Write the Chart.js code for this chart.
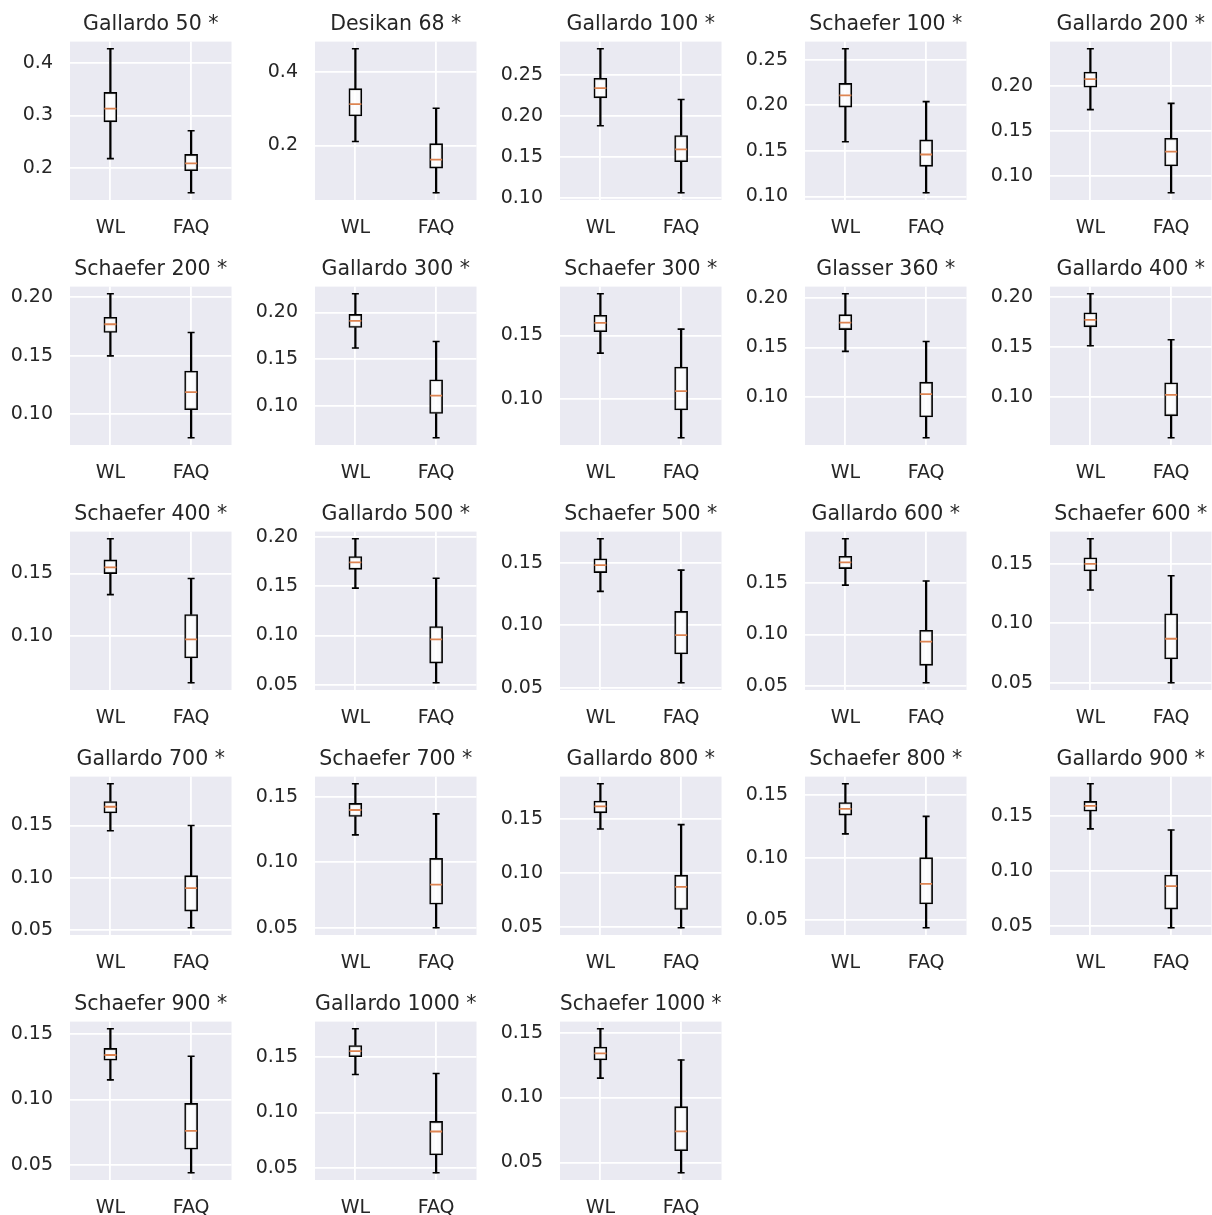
<!DOCTYPE html>
<html lang="en">
<head>
<meta charset="UTF-8">
<title>WL vs FAQ</title>
<script src="https://cdn.jsdelivr.net/npm/chart.js@4.4.0/dist/chart.umd.min.js"></script>
<style>
  body { margin: 0; background: #fff; }
  #grid { position: relative; width: 1212px; height: 1215px; overflow: hidden; }
  #grid canvas { position: absolute; }
</style>
</head>
<body>
<div id="grid"></div>
<script>
const panelTitles = [
  'Gallardo 50 *', 'Desikan 68 *', 'Gallardo 100 *', 'Schaefer 100 *', 'Gallardo 200 *',
  'Schaefer 200 *', 'Gallardo 300 *', 'Schaefer 300 *', 'Glasser 360 *', 'Gallardo 400 *',
  'Schaefer 400 *', 'Gallardo 500 *', 'Schaefer 500 *', 'Gallardo 600 *', 'Schaefer 600 *',
  'Gallardo 700 *', 'Schaefer 700 *', 'Gallardo 800 *', 'Schaefer 800 *', 'Gallardo 900 *',
  'Schaefer 900 *', 'Gallardo 1000 *', 'Schaefer 1000 *'
];
const groups = ['WL', 'FAQ'];

// [min, q1, median, q3, max]
const wlStats = [
  [0.218, 0.288, 0.313, 0.344, 0.427],
  [0.211, 0.280, 0.312, 0.354, 0.462],
  [0.188, 0.222, 0.234, 0.246, 0.282],
  [0.160, 0.198, 0.211, 0.224, 0.262],
  [0.174, 0.199, 0.208, 0.216, 0.242],
  [0.150, 0.170, 0.177, 0.183, 0.203],
  [0.162, 0.184, 0.191, 0.198, 0.220],
  [0.136, 0.153, 0.160, 0.166, 0.183],
  [0.146, 0.168, 0.175, 0.183, 0.204],
  [0.151, 0.170, 0.177, 0.184, 0.203],
  [0.133, 0.150, 0.155, 0.161, 0.178],
  [0.148, 0.167, 0.174, 0.180, 0.198],
  [0.127, 0.142, 0.148, 0.153, 0.169],
  [0.148, 0.164, 0.170, 0.176, 0.193],
  [0.128, 0.144, 0.150, 0.155, 0.171],
  [0.145, 0.162, 0.168, 0.173, 0.190],
  [0.121, 0.135, 0.140, 0.145, 0.160],
  [0.141, 0.156, 0.162, 0.167, 0.183],
  [0.119, 0.134, 0.139, 0.144, 0.159],
  [0.138, 0.154, 0.159, 0.163, 0.179],
  [0.115, 0.130, 0.134, 0.139, 0.154],
  [0.134, 0.150, 0.155, 0.160, 0.175],
  [0.115, 0.129, 0.134, 0.139, 0.153]
];
const faqStats = [
  [0.153, 0.195, 0.209, 0.226, 0.271],
  [0.072, 0.139, 0.162, 0.205, 0.301],
  [0.106, 0.144, 0.159, 0.176, 0.220],
  [0.104, 0.133, 0.146, 0.162, 0.204],
  [0.081, 0.111, 0.127, 0.142, 0.181],
  [0.080, 0.104, 0.119, 0.137, 0.170],
  [0.066, 0.092, 0.111, 0.128, 0.169],
  [0.069, 0.091, 0.106, 0.125, 0.155],
  [0.059, 0.080, 0.103, 0.115, 0.156],
  [0.059, 0.081, 0.102, 0.114, 0.157],
  [0.062, 0.082, 0.097, 0.117, 0.146],
  [0.052, 0.072, 0.096, 0.109, 0.158],
  [0.054, 0.077, 0.092, 0.111, 0.144],
  [0.053, 0.070, 0.093, 0.104, 0.152],
  [0.050, 0.070, 0.087, 0.108, 0.140],
  [0.052, 0.068, 0.090, 0.102, 0.150],
  [0.050, 0.068, 0.083, 0.103, 0.137],
  [0.049, 0.066, 0.087, 0.098, 0.145],
  [0.044, 0.063, 0.079, 0.100, 0.133],
  [0.048, 0.065, 0.086, 0.096, 0.137],
  [0.044, 0.062, 0.076, 0.097, 0.133],
  [0.046, 0.062, 0.083, 0.092, 0.135],
  [0.042, 0.059, 0.074, 0.093, 0.129]
];
const yTickLabels = [
  ['0.2', '0.3', '0.4'],
  ['0.2', '0.4'],
  ['0.10', '0.15', '0.20', '0.25'],
  ['0.10', '0.15', '0.20', '0.25'],
  ['0.10', '0.15', '0.20'],
  ['0.10', '0.15', '0.20'],
  ['0.10', '0.15', '0.20'],
  ['0.10', '0.15'],
  ['0.10', '0.15', '0.20'],
  ['0.10', '0.15', '0.20'],
  ['0.10', '0.15'],
  ['0.05', '0.10', '0.15', '0.20'],
  ['0.05', '0.10', '0.15'],
  ['0.05', '0.10', '0.15'],
  ['0.05', '0.10', '0.15'],
  ['0.05', '0.10', '0.15'],
  ['0.05', '0.10', '0.15'],
  ['0.05', '0.10', '0.15'],
  ['0.05', '0.10', '0.15'],
  ['0.05', '0.10', '0.15'],
  ['0.05', '0.10', '0.15'],
  ['0.05', '0.10', '0.15'],
  ['0.05', '0.10', '0.15']
];

Chart.defaults.font.family = '"DejaVu Sans", sans-serif';
Chart.defaults.color = '#262626';

// seaborn darkgrid background behind the axes
const axesBg = {
  id: 'axesBg',
  beforeDraw(chart) {
    const a = chart.chartArea, ctx = chart.ctx;
    ctx.save();
    ctx.fillStyle = '#eaeaf2';
    ctx.fillRect(a.left, a.top, a.right - a.left, a.bottom - a.top);
    ctx.restore();
  }
};

function makePanel(i) {
  const canvas = document.createElement('canvas');
  canvas.width = 232;
  canvas.height = 235;
  canvas.style.left = (i % 5) * 245 + 'px';
  canvas.style.top = Math.floor(i / 5) * 245 + 'px';
  document.getElementById('grid').appendChild(canvas);

  const stats = [wlStats[i], faqStats[i]];
  const lo = Math.min(...stats.map(s => s[0]));
  const hi = Math.max(...stats.map(s => s[4]));
  const margin = (hi - lo) * 0.05;
  const ticks = yTickLabels[i];

  const whiskers = [], boxes = [], caps = [], medians = [];
  stats.forEach((s, k) => {
    const x = k + 1;
    whiskers.push({x: x, y: [s[0], s[1]]}, {x: x, y: [s[3], s[4]]});
    boxes.push({x: x, y: [s[1], s[3]]});
    caps.push({x: x, y: s[0]}, {x: x, y: s[4]});
    medians.push({x: x, y: s[2]});
  });

  new Chart(canvas, {
    type: 'bar',
    data: {
      datasets: [
        {
          type: 'scatter', data: medians, order: 0,
          pointStyle: 'line', radius: 6, borderColor: '#dd8452', borderWidth: 1.8
        },
        {
          type: 'scatter', data: caps, order: 1,
          pointStyle: 'line', radius: 3.5, borderColor: '#000', borderWidth: 1.6
        },
        {
          data: boxes, order: 2, grouped: false, barThickness: 13,
          backgroundColor: 'rgba(255,255,255,0.8)', borderColor: '#000',
          borderWidth: 1.6, borderSkipped: false
        },
        {
          data: whiskers, order: 3, grouped: false, barThickness: 1.6,
          backgroundColor: '#000', borderWidth: 0
        }
      ]
    },
    options: {
      responsive: false,
      animation: false,
      layout: { autoPadding: false, padding: { left: 0, right: 0.5, top: 0, bottom: 0 } },
      plugins: {
        legend: { display: false },
        tooltip: { enabled: false },
        title: {
          display: true,
          text: panelTitles[i],
          fullSize: false,
          color: '#262626',
          font: { size: 20.5, weight: 'normal' },
          padding: { top: 12, bottom: 5 }
        }
      },
      scales: {
        x: {
          type: 'linear',
          min: 0.5,
          max: 2.5,
          offset: false,
          afterBuildTicks: axis => { axis.ticks = [{value: 1}, {value: 2}]; },
          afterFit: axis => {
            axis.height = 35;
            axis.paddingLeft = 0;
            axis.paddingRight = 0;
          },
          ticks: {
            padding: 17,
            font: { size: 19 },
            color: '#262626',
            callback: v => groups[v - 1]
          },
          grid: { color: '#fff', lineWidth: 1.8, drawTicks: false, offset: false },
          border: { display: false }
        },
        y: {
          type: 'linear',
          min: lo - margin,
          max: hi + margin,
          afterBuildTicks: axis => { axis.ticks = ticks.map(t => ({value: Number(t)})); },
          afterFit: axis => {
            axis.width = 70;
            axis.paddingTop = 0;
            axis.paddingBottom = 0;
          },
          ticks: {
            padding: 17,
            font: { size: 19 },
            color: '#262626',
            callback: (v, idx) => ticks[idx]
          },
          grid: { color: '#fff', lineWidth: 1.8, drawTicks: false },
          border: { display: false }
        }
      }
    },
    plugins: [axesBg]
  });
}

panelTitles.forEach((t, i) => makePanel(i));
</script>
</body>
</html>
